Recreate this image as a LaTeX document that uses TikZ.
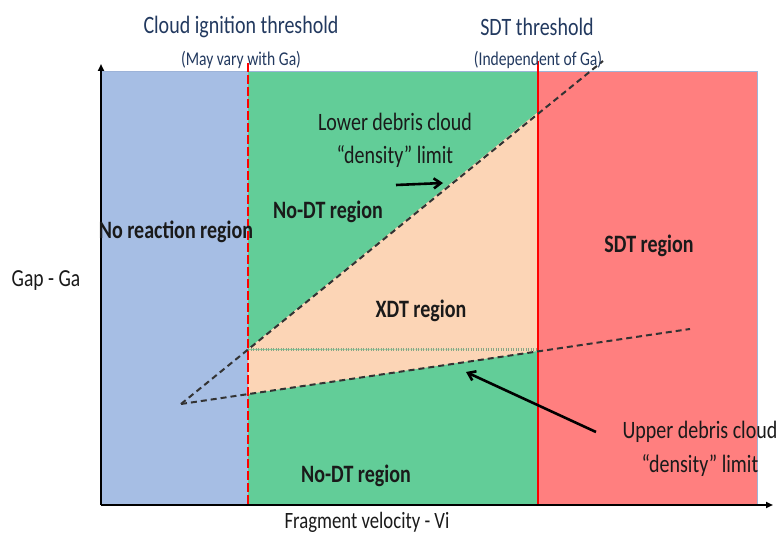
\documentclass[tikz,border=0pt]{standalone}
\usepackage{fontspec}
\setmainfont{Carlito}[FakeStretch=0.8]
\usetikzlibrary{arrows.meta}
\definecolor{blueR}{HTML}{A6BEE4}
\definecolor{greenR}{HTML}{62CD98}
\definecolor{redR}{HTML}{FF7F7F}
\definecolor{peachR}{HTML}{FCD5B6}
\definecolor{navy}{HTML}{22395F}
\definecolor{frameC}{HTML}{9DB3D8}
\definecolor{sepC}{HTML}{86A886}
\definecolor{txt}{HTML}{1A1A1A}
\tikzset{
  title/.style={text=navy, font=\fontsize{25}{28}\selectfont, inner sep=0pt},
  subtitle/.style={text=navy, font=\fontsize{19.5}{22}\selectfont, inner sep=0pt},
  lbl/.style={text=txt, font=\fontsize{25}{28}\selectfont, inner sep=0pt},
  blbl/.style={text=txt, font=\bfseries\fontsize{25}{28}\selectfont, inner sep=0pt},
  limit/.style={dash pattern=on 6pt off 4pt, line width=2pt, draw=black!80},
  axis/.style={line width=2pt, -{Triangle[length=7pt,width=6pt]}},
  pointer/.style={line width=2.6pt, -{Straight Barb[length=7pt,width=10pt]}}
}
\begin{document}
\begin{tikzpicture}[x=1pt,y=-1pt]
\useasboundingbox (0,0) rectangle (782,537);
% regions
\fill[blueR] (101,71) rectangle (248,504);
\fill[greenR] (248,71) rectangle (538,504);
\fill[redR] (538,71) rectangle (757,504);
\draw[frameC, line width=0.8pt] (101,71) rectangle (757,504);
\fill[peachR] (248,349) -- (538,112) -- (538,350) -- cycle;
\fill[peachR] (248,350) -- (538,350) -- (538,351) -- (248,394) -- cycle;
\draw[sepC, line width=3pt, dash pattern=on 1.3pt off 1.2pt] (248,350) -- (538,350);
% thresholds
\coordinate (cTop) at (248,63);
\coordinate (cBot) at (248,504);
\coordinate (sTop) at (538,61);
\coordinate (sBot) at (538,504);
\draw[red, line width=1.6pt, dash pattern=on 9pt off 3pt] (cTop) -- (cBot);
\draw[red, line width=2.6pt] (sTop) -- (sBot);
% debris cloud limits
\coordinate (apex) at (181,404);
\coordinate (upEnd) at (603,61);
\coordinate (loEnd) at (690,329);
\draw[limit] (apex) -- (upEnd);
\draw[limit] (apex) -- (loEnd);
% axes
\coordinate (origin) at (101,505);
\coordinate (yEnd) at (101,64);
\coordinate (xEnd) at (773,505);
\draw[axis] (origin) -- (yEnd);
\draw[axis] (origin) -- (xEnd);
% labels
\node[title] (t1) at (241,27) {Cloud ignition threshold};
\node[subtitle] (s1) at (241,60) {(May vary with Ga)};
\node[title] (t2) at (537,27) {SDT threshold};
\node[subtitle] (s2) at (538,60) {(Independent of Ga)};
\node[lbl] (low1) at (395,122) {Lower debris cloud};
\node[lbl] (low2) at (395,157) {“density” limit};
\node[blbl] (nodt1) at (328,212) {No-DT region};
\node[blbl] (nr) at (176,232) {No reaction region};
\node[blbl] (sdt) at (649,246) {SDT region};
\node[blbl] (xdt) at (421,311) {XDT region};
\node[blbl] (nodt2) at (356,476) {No-DT region};
\node[lbl, font=\fontsize{24.5}{28}\selectfont] (gap) at (46,281) {Gap - Ga};
\node[lbl, font=\fontsize{23.4}{28}\selectfont] (vel) at (367,522) {Fragment velocity - Vi};
\node[lbl] (up1) at (700,432) {Upper debris cloud};
\node[lbl] (up2) at (700,465) {“density” limit};
% pointers
\coordinate (lowA) at (396,185);
\coordinate (lowB) at (443,183);
\coordinate (upA) at (596,432);
\coordinate (upB) at (466,372);
\draw[pointer] (lowA) -- (lowB);
\draw[pointer] (upA) -- (upB);
\end{tikzpicture}
\end{document}
